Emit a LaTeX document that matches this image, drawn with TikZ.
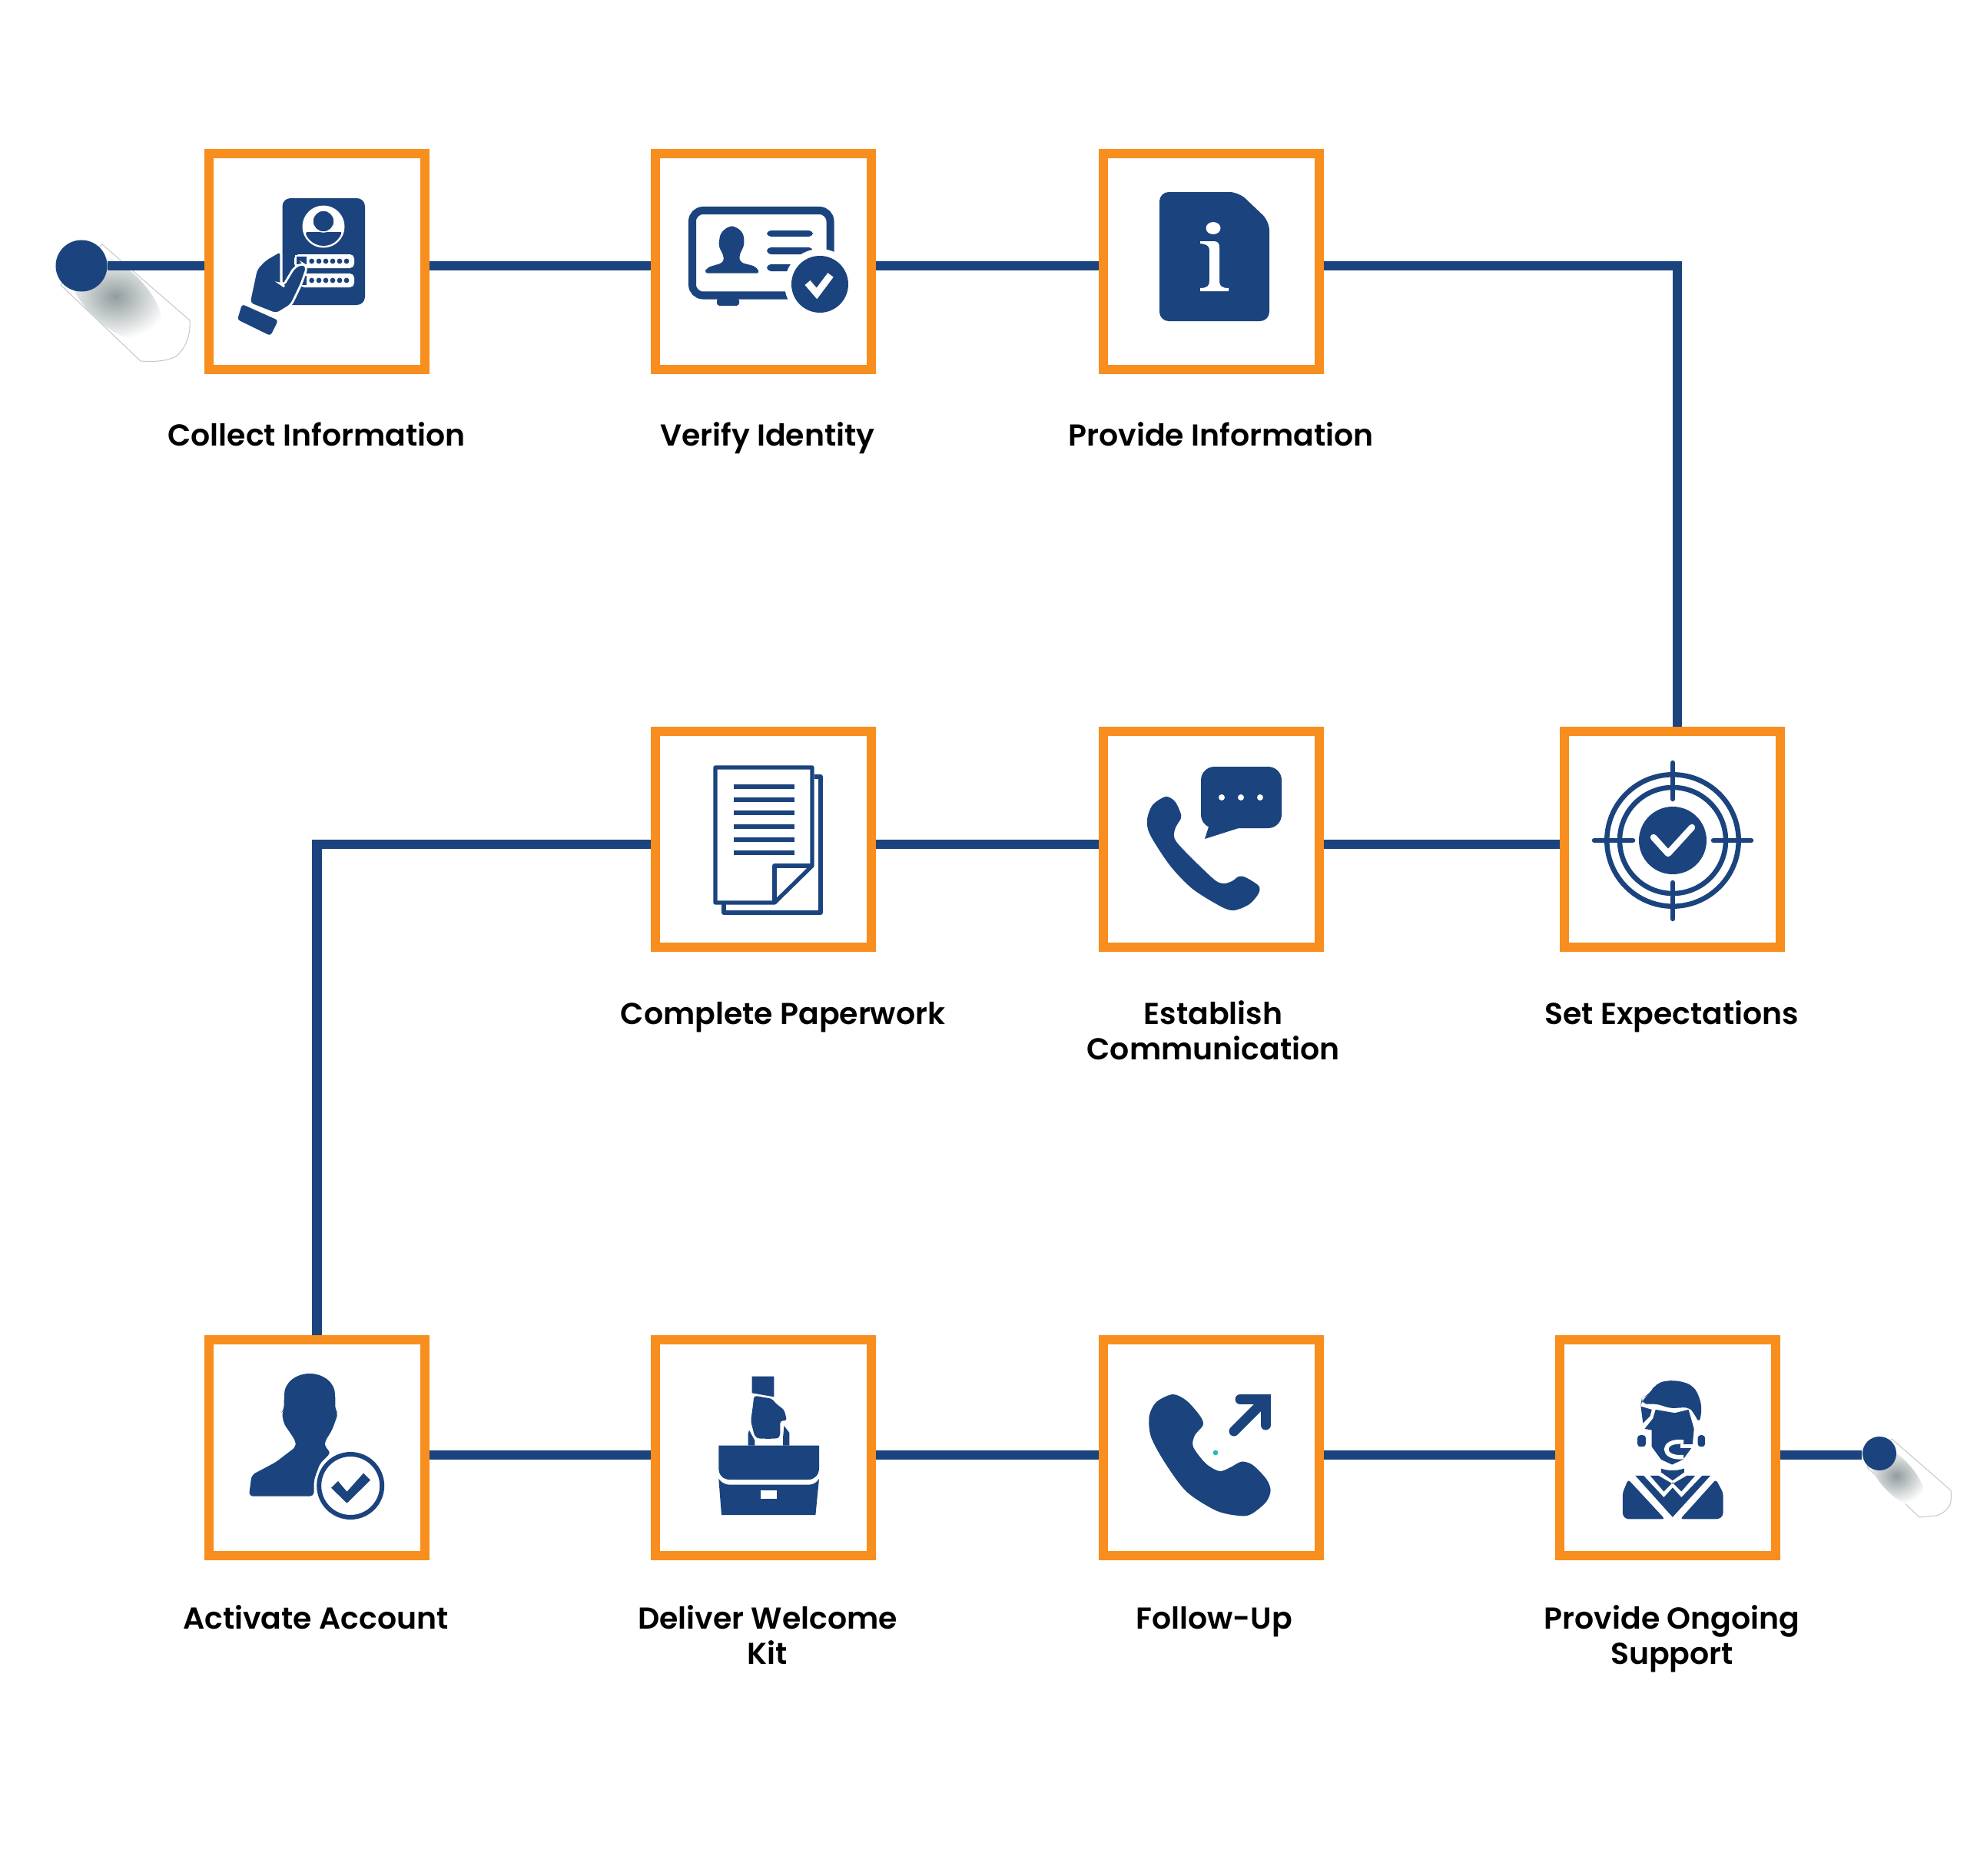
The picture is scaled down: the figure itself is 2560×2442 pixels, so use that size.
\documentclass[tikz,border=0pt]{standalone}
\usepackage{fontspec}
\setmainfont{Poppins}[BoldFont={Poppins SemiBold}]
\definecolor{navy}{HTML}{1B447E}
\definecolor{boxorange}{HTML}{F78E1E}
\definecolor{tailgray}{HTML}{C4C9CF}
\definecolor{shadegray}{HTML}{929C9E}
\definecolor{tealdot}{HTML}{1FBFAE}
\tikzset{
  stepbox/.style={draw=boxorange,fill=white,line width=3.41pt,minimum size=2.8cm,inner sep=0pt},
  steplabel/.style={font=\fontsize{11.2}{13}\selectfont\bfseries,align=center,inner sep=0pt,anchor=base},
  flow/.style={draw=navy,line width=3.5pt},
  enddot/.style={circle,fill=navy,inner sep=0pt},
  tailshape/.style={draw=tailgray,line width=0.3pt,fill=white},
  iconfill/.style={fill=navy,rounded corners=#1},
  iconfill/.default=0pt
}
\begin{document}
\begin{tikzpicture}[x=0.01cm,y=-0.01cm]
\useasboundingbox (0,0) rectangle (2560,2442);
\draw[tailshape] (133,318) -- (247,417) .. controls (248,435) and (243,452) .. (229,464) .. controls (215,471) and (198,471) .. (183,470) -- (79,371) -- cycle;
\begin{scope}
\clip (133,318) -- (247,417) -- (229,464) -- (183,470) -- (79,371) -- cycle;
\begin{scope}[shift={(150,386)},rotate=-43]
\shade[inner color=shadegray,outer color=white] (0,0) ellipse (76 and 38);
\end{scope}
\end{scope}
\draw[tailshape] (2462,1873) -- (2539,1940) .. controls (2540,1950) and (2539,1958) .. (2537,1960) .. controls (2532,1968) and (2525,1972) .. (2519,1973) -- (2498,1975) -- (2430,1910) -- cycle;
\begin{scope}[shift={(2468,1921)},rotate=-48]
\shade[inner color=shadegray,outer color=white] (0,0) ellipse (50 and 22);
\end{scope}
\node[enddot,minimum size=0.67cm] (startdot) at (106,346) {};
\node[enddot,minimum size=0.44cm] (stopdot) at (2446,1892) {};
\node[stepbox] (collect) at (412.5,340.5) {};
\node[stepbox] (verify) at (993.5,340.5) {};
\node[stepbox] (provide) at (1576.5,340.5) {};
\node[stepbox] (paperwork) at (993.5,1092.5) {};
\node[stepbox] (establish) at (1576.5,1092.5) {};
\node[stepbox] (expect) at (2176.5,1092.5) {};
\node[stepbox] (activate) at (412.5,1884.5) {};
\node[stepbox] (deliver) at (993.5,1884.5) {};
\node[stepbox] (followup) at (1576.5,1884.5) {};
\node[stepbox] (support) at (2170.5,1884.5) {};
\node[steplabel] (collectlabel) at (412,580) {Collect Information};
\node[steplabel] (verifylabel) at (999,580) {Verify Identity};
\node[steplabel] (providelabel) at (1589,580) {Provide Information};
\node[steplabel] (paperworklabel) at (1019,1333) {Complete Paperwork};
\node[steplabel] (establishlabel) at (1579,1379) {Establish\\Communication};
\node[steplabel] (expectlabel) at (2176,1333) {Set Expectations};
\node[steplabel] (activatelabel) at (411,2120) {Activate Account};
\node[steplabel] (deliverlabel) at (999,2166) {Deliver Welcome\\Kit};
\node[steplabel] (followuplabel) at (1580,2120) {Follow-Up};
\node[steplabel] (supportlabel) at (2176,2166) {Provide Ongoing\\Support};
\coordinate (rowa) at (0,346);
\coordinate (rowb) at (0,1099);
\coordinate (rowc) at (0,1894);
\coordinate (riser) at (2183,0);
\draw[flow] (startdot.east |- rowa) -- (collect.west |- rowa);
\draw[flow] (collect.east |- rowa) -- (verify.west |- rowa);
\draw[flow] (verify.east |- rowa) -- (provide.west |- rowa);
\draw[flow] (provide.east |- rowa) -| (riser |- expect.north);
\draw[flow] (expect.west |- rowb) -- (establish.east |- rowb);
\draw[flow] (establish.west |- rowb) -- (paperwork.east |- rowb);
\draw[flow] (paperwork.west |- rowb) -| (activate.north);
\draw[flow] (activate.east |- rowc) -- (deliver.west |- rowc);
\draw[flow] (deliver.east |- rowc) -- (followup.west |- rowc);
\draw[flow] (followup.east |- rowc) -- (support.west |- rowc);
\draw[flow] (support.east |- rowc) -- (stopdot.west |- rowc);
\fill[iconfill=3pt] (367.5,258) rectangle (475,397);
\fill[white] (421,295) circle[radius=27.5];
\begin{scope}
\clip (421,295) circle[radius=25];
\fill[navy] (399,302) -- (444,302) -- (450,325) -- (392,325) -- cycle;
\end{scope}
\fill[navy,draw=white,line width=0.4pt] (421,288) circle[radius=14];
\fill[white,rounded corners=1.6pt] (383,331) rectangle (461,349);
\fill[white,rounded corners=1.6pt] (390,356) rectangle (461,374);
\foreach \dotx in {405.7,415,424,433,442,451} {
  \fill[navy] (\dotx,340) circle[radius=3.4];
  \fill[navy] (\dotx,365) circle[radius=3.4];
}
\fill[navy,draw=white,line width=0.4pt] (385,333) rectangle (400,345);
\fill[navy,draw=white,line width=0.4pt] (389,358) rectangle (400,372);
\fill[navy,draw=white,line width=0.8pt,rounded corners=1.5pt] (365.7,326) -- (345,338) -- (333.6,350) -- (324,395) -- (359.6,409) -- (379,397) -- (392,370) -- (400,347) -- (393.6,343) -- (383,348) -- (368.6,372) -- (365.7,370) -- cycle;
\fill[iconfill=1pt] (315,396) -- (362,417) -- (352,437) -- (309,416) -- cycle;
\draw[navy,line width=2.85pt,rounded corners=4pt] (901,274) rectangle (1080.5,384.5);
\fill[iconfill=1pt] (933,388) rectangle (962,398);
\fill[iconfill=1.5pt] (916.3,355.7) -- (920,348.3) -- (942,341.7) -- (942,333.3) -- (935,320) -- (937.6,303.3) -- (949,294) -- (957.7,295) -- (967.4,303.3) -- (969,318.3) -- (961.7,333.3) -- (963.4,341.7) -- (983.5,346.7) -- (989.3,355.7) -- cycle;
\fill[iconfill=1.5pt] (998,300) rectangle (1058,308);
\fill[iconfill=1.5pt] (998,322) rectangle (1058,331);
\fill[iconfill=1.5pt] (998,344) rectangle (1040,353);
\fill[white] (1067,370) circle[radius=46];
\fill[navy] (1067,370) circle[radius=37];
\draw[white,line width=2.6pt] (1051,368) -- (1063,382) -- (1081,358);
\fill[iconfill=3.4pt] (1509,250) -- (1612,250) -- (1652,288) -- (1652,418) -- (1509,418) -- cycle;
\fill[white] (1579,297) ellipse (9.5 and 8);
\fill[white] (1562,314) -- (1580,314) .. controls (1585,314) and (1587,317) .. (1587,322) -- (1587,366) .. controls (1587,372) and (1590,375) .. (1599,375) -- (1599,379) -- (1562,379) -- (1562,375) .. controls (1571,375) and (1574,372) .. (1574,366) -- (1574,326) .. controls (1574,320) and (1571,318) .. (1562,317) -- cycle;
\draw[navy,line width=1.5pt,line join=round] (1060,1011) -- (1068,1011) -- (1068,1188) -- (942,1188) -- (942,1177);
\draw[navy,line width=1.5pt,line join=round] (931,999) -- (1057,999) -- (1057,1127) -- (1008,1175) -- (931,1175) -- cycle;
\draw[navy,line width=1.5pt,line join=round] (1008,1175) -- (1008,1127) -- (1057,1127);
\foreach \liney in {1024,1041,1058,1076,1093,1110} {
  \fill[navy] (955,\liney-3) rectangle (1034,\liney+3);
}
\fill[iconfill=5pt] (1563,998) rectangle (1668,1078);
\fill[navy] (1575,1070) -- (1568,1092) -- (1612,1078) -- cycle;
\foreach \dotx in {1590,1615,1640} {
  \fill[white] (\dotx,1038) circle[radius=4];
}
\fill[navy] plot[smooth cycle,tension=0.5] coordinates {(1517,1037) (1529,1043) (1536,1057) (1537,1065) (1529,1080) (1532,1097) (1578,1143) (1592,1150) (1603.5,1147) (1612,1141) (1621,1142) (1638,1153) (1638,1163) (1626,1177) (1606,1185) (1589,1180) (1552,1157) (1523,1127) (1497,1087) (1493,1067) (1500,1048)};
\draw[navy,line width=1.85pt] (2177,1094) circle[radius=85.7];
\draw[navy,line width=1.85pt] (2177,1094) circle[radius=69];
\fill[navy] (2177,1094) circle[radius=44];
\draw[navy,line width=1.85pt,line cap=round] (2177,993) -- (2177,1040);
\draw[navy,line width=1.85pt,line cap=round] (2177,1149) -- (2177,1196);
\draw[navy,line width=1.85pt,line cap=round] (2075,1094) -- (2125,1094);
\draw[navy,line width=1.85pt,line cap=round] (2230,1094) -- (2279,1094);
\draw[white,line width=2.4pt,line cap=round,line join=round] (2152,1090) -- (2171,1111) -- (2202,1077);
\fill[navy] (403,1815) ellipse (33 and 27);
\fill[iconfill=1.5pt] (370,1813) -- (369.4,1835) -- (366.8,1838.3) -- (369.4,1853.3) -- (378.8,1866.7) -- (385,1876.7) -- (385,1883.3) -- (358.9,1903.3) -- (327.5,1920) -- (323.9,1947.7) -- (408.6,1947.7) -- (408.6,1926.7) -- (416.4,1905) -- (431,1890.7) -- (422.7,1883.3) -- (422.7,1876.7) -- (432.1,1861.7) -- (440,1840) -- (436.3,1835) -- (436.3,1813.3) -- cycle;
\draw[navy,line width=1.7pt] (456.2,1934) circle[radius=41];
\fill[navy] (431,1936.7) -- (440,1928) -- (451.5,1941.7) -- (473,1917.7) -- (482,1926.7) -- (451.5,1956.7) -- cycle;
\fill[navy] (978.7,1791.7) -- (1007.4,1791.7) -- (1007.4,1818.3) -- (978.7,1813.3) -- cycle;
\fill[iconfill=1pt] (981.3,1816.7) -- (1004.8,1820.7) -- (1010,1827.3) -- (1020.5,1835) -- (1024.2,1849.3) -- (1015.3,1849.3) -- (1015.3,1870) -- (1010,1873.3) -- (1004.8,1871.7) -- (999.6,1874) -- (994.3,1871.7) -- (989.1,1873.3) -- (982.3,1870) -- (977.1,1850) -- (980.3,1826.7) -- cycle;
\fill[navy] (973.5,1881.7) -- (973.5,1866.7) -- (975,1861.7) -- (982.3,1875) -- (982.3,1881.7) -- cycle;
\fill[navy] (1019,1881.7) -- (1019,1871.7) -- (1020.5,1856) -- (1027.3,1865) -- (1027.3,1881.7) -- cycle;
\fill[navy] (935.3,1881.7) -- (1066,1881.7) -- (1066,1911) .. controls (1066,1920) and (1060,1926) .. (1052,1926) -- (950,1926) .. controls (941,1926) and (935.3,1920) .. (935.3,1911) -- cycle;
\fill[navy] (935.3,1925) .. controls (939,1930) and (944,1932.7) .. (950,1932.7) -- (1052,1932.7) .. controls (1058,1932.7) and (1063,1930) .. (1066,1925) -- (1061.4,1972) -- (939,1972) -- cycle;
\fill[white] (990,1940) rectangle (1011,1950.7);
\fill[navy] plot[smooth cycle,tension=0.5] coordinates {(1526.4,1815) (1544.3,1823.3) (1562,1843.3) (1565.7,1855) (1555,1868.3) (1552.9,1883.3) (1569.3,1905) (1587,1915) (1601.4,1910) (1615.7,1902.7) (1630,1906.7) (1647.9,1925) (1653.6,1940) (1647.9,1955) (1630,1970) (1615.7,1973.3) (1583.6,1966.7) (1544.3,1941.7) (1515.7,1903.3) (1497.9,1870) (1495.7,1843.3) (1505,1825)};
\draw[navy,line width=3.7pt,line cap=round,line join=miter] (1614,1821.5) -- (1647,1821.5) -- (1647,1855);
\draw[navy,line width=3.7pt,line cap=round] (1645,1824) -- (1606,1863);
\fill[tealdot] (1582,1891) circle[radius=3.3];
\begin{scope}[shift={(1430,1740)},xscale=0.714,yscale=0.333]
\fill[iconfill=3pt] (1050,168) -- (1085,190) -- (1100,265) -- (1095,345) -- (1085,295) -- (1072,268) -- (1050,285) -- (1010,258) -- (988,268) -- (990,240) -- (1005,225) -- (1015,180) -- cycle;
\fill[navy] (988,272) -- (1008,285) -- (1005,310) -- (992,338) -- cycle;
\fill[navy] (1015,285) -- (1050,298) -- (1075,285) -- (1085,360) -- (1082,430) -- (1065,480) -- (1045,500) -- (1025,480) -- (1008,430) -- (1008,365) -- (995,360) -- (1010,320) -- cycle;
\fill[iconfill=1pt] (982,385) rectangle (997,430);
\fill[iconfill=1pt] (1092,385) rectangle (1105,430);
\draw[white,line width=1.6pt] (1066,412) .. controls (1024,400) and (1024,480) .. (1066,470);
\draw[white,line width=1.2pt] (1060,428) -- (1092,428);
\fill[navy] (1025,515) .. controls (1035,525) and (1055,525) .. (1067,515) -- (1067,530) -- (1046,562) -- (1025,530) -- cycle;
\fill[iconfill=1pt] (965,558) -- (1032,713) -- (962,713) -- (955,700) -- (955,610) -- cycle;
\fill[iconfill=1pt] (1125,558) -- (1060,713) -- (1130,713) -- (1138,700) -- (1138,610) -- cycle;
\fill[navy] (978,543) -- (993,543) -- (1030,628) -- (1046,590) -- (1062,628) -- (1100,543) -- (1115,543) -- (1046,705) -- cycle;
\fill[navy] (1005,543) -- (1020,543) -- (1046,575) -- (1072,543) -- (1087,543) -- (1062,605) -- (1046,570) -- (1030,605) -- cycle;
\end{scope}
\end{tikzpicture}
\end{document}
